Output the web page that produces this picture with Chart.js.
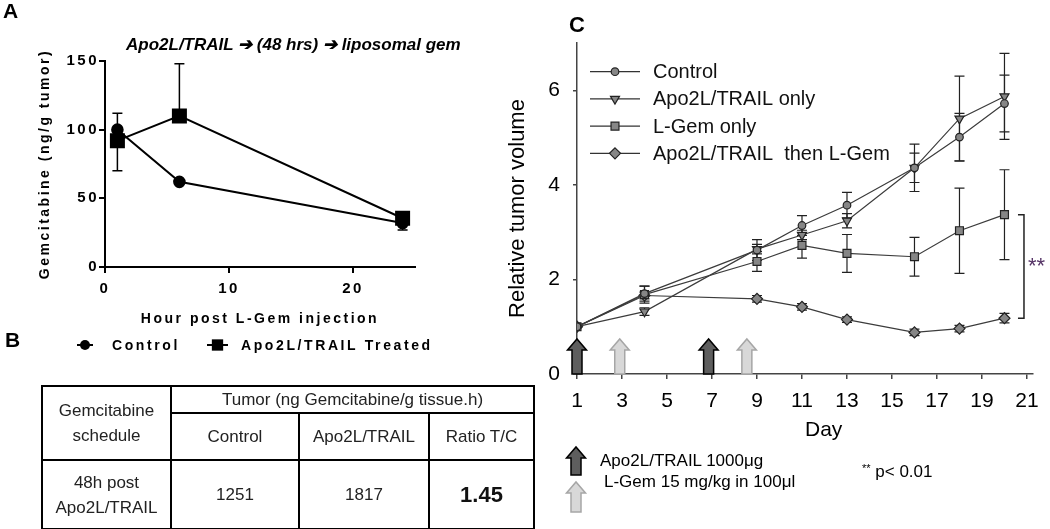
<!DOCTYPE html>
<html>
<head>
<meta charset="utf-8">
<script src="https://cdn.jsdelivr.net/npm/chart.js@4.4.1/dist/chart.umd.min.js"></script>
<style>
  body { margin:0; width:1050px; height:529px; background:#fff; position:relative; overflow:hidden;
         font-family:"Liberation Sans", Arial, sans-serif; color:#000; }
  .abs { position:absolute; line-height:1; white-space:nowrap; }
  .panel { font-weight:bold; font-size:21px; }
  #canvasA { position:absolute; left:0; top:0; }
  #canvasC { position:absolute; left:480px; top:0; }
  #tableB { position:absolute; left:41px; top:385px; border-collapse:collapse; table-layout:fixed;
            color:#222; font-size:17px; }
  #tableB td { border:2px solid #000; text-align:center; padding:0; line-height:25px; }
  #tableB td.big { font-weight:bold; font-size:22px; color:#111; }
</style>
</head>
<body>
<canvas id="canvasA" width="470" height="360"></canvas>
<canvas id="canvasC" width="570" height="529"></canvas>

<div class="abs panel" style="left:3px; top:0px;">A</div>
<div class="abs panel" style="left:5px; top:329px;">B</div>
<div class="abs panel" style="left:569px; top:14px; font-size:22px;">C</div>

<div class="abs" style="left:126px; top:36px; font-size:17px; font-weight:bold; font-style:italic;">Apo2L/TRAIL ➔ (48 hrs) ➔ liposomal gem</div>

<table id="tableB"></table>

<div class="abs" style="left:805px; top:418px; font-size:21px;">Day</div>
<div class="abs" style="left:600px; top:452px; font-size:17px;">Apo2L/TRAIL 1000μg</div>
<div class="abs" style="left:604px; top:473px; font-size:17px;">L-Gem 15 mg/kg in 100μl</div>
<div class="abs" style="left:862px; top:463px; font-size:17px;"><span style="font-size:11px; vertical-align:top;">**</span> p&lt; 0.01</div>

<script>
// ---------- Panel A : gemcitabine in tumour ----------
const aHours = [1, 6, 24];
const aControl = [100, 62, 32];
const aControlErrUp = [12, 0, 0];
const aControlErrDown = [0, 0, 5];
const aTreated = [92, 110, 35.5];
const aTreatedErrUp = [0, 38, 0];
const aTreatedErrDown = [22, 0, 0];
const aSeriesNames = ['Control', 'Apo2L/TRAIL Treated'];

// ---------- Panel B : table ----------
const bHeadTop = 'Tumor (ng Gemcitabine/g tissue.h)';
const bRowHead = ['Gemcitabine', 'schedule'];
const bColumns = ['Control', 'Apo2L/TRAIL', 'Ratio T/C'];
const bSchedule = ['48h post', 'Apo2L/TRAIL'];
const bValues = ['1251', '1817', '1.45'];

// ---------- Panel C : relative tumour volume ----------
const cDays = [1, 4, 9, 11, 13, 16, 18, 20];
const cControl    = [1.0, 1.70, 2.62, 3.14, 3.57, 4.36, 5.01, 5.72];
const cControlErr = [0, 0.16, 0.22, 0.21, 0.27, 0.31, 0.50, 0.60];
const cTrail      = [1.0, 1.32, 2.64, 2.94, 3.24, 4.36, 5.40, 5.87];
const cTrailErr   = [0, 0.08, 0.10, 0.10, 0.15, 0.50, 0.90, 0.91];
const cLGem       = [1.0, 1.68, 2.38, 2.72, 2.55, 2.48, 3.03, 3.37];
const cLGemErr    = [0, 0.18, 0.21, 0.27, 0.40, 0.41, 0.90, 0.95];
const cCombo      = [1.0, 1.66, 1.59, 1.42, 1.15, 0.88, 0.96, 1.18];
const cComboErr   = [0, 0.07, 0.07, 0.07, 0.06, 0.07, 0.07, 0.10];
const cSeriesNames = ['Control', 'Apo2L/TRAIL only', 'L-Gem only', 'Apo2L/TRAIL  then L-Gem'];
const cDayTicks = [1, 3, 5, 7, 9, 11, 13, 15, 17, 19, 21];
const cTrailDoseDays = [1, 6.85];
const cGemDoseDays = [2.9, 8.55];
const cArrowTop = 0.74;

Chart.defaults.font.family = '"Liberation Sans", Arial, sans-serif';
Chart.defaults.color = '#000';

// --- build table B ---
(function () {
  const t = document.getElementById('tableB');
  const widths = [129, 128, 130, 105];
  let html = '<colgroup>' + widths.map(w => `<col style="width:${w}px">`).join('') + '</colgroup>';
  html += `<tr style="height:26px"><td rowspan="2">${bRowHead.join('<br>')}</td><td colspan="3">${bHeadTop}</td></tr>`;
  html += '<tr style="height:47px">' + bColumns.map(c => `<td>${c}</td>`).join('') + '</tr>';
  html += `<tr style="height:69px"><td>${bSchedule.join('<br>')}</td>` +
          bValues.map((v, i) => `<td${i === bValues.length - 1 ? ' class="big"' : ''}>${v}</td>`).join('') + '</tr>';
  t.innerHTML = html;
})();

// --- helpers ---
function drawMarker(ctx, style, x, y, r, fill, stroke, lw) {
  ctx.save();
  ctx.beginPath();
  if (style === 'circle') {
    ctx.arc(x, y, r, 0, Math.PI * 2);
  } else if (style === 'rect') {
    const s = r * Math.SQRT1_2;
    ctx.rect(x - s, y - s, 2 * s, 2 * s);
  } else if (style === 'triangleDown') {
    for (let k = 0; k < 3; k++) {
      const a = Math.PI + k * 2 * Math.PI / 3;
      const px = x + Math.sin(a) * r, py = y - Math.cos(a) * r;
      k ? ctx.lineTo(px, py) : ctx.moveTo(px, py);
    }
    ctx.closePath();
  } else if (style === 'diamond') {
    ctx.moveTo(x, y - r); ctx.lineTo(x + r, y); ctx.lineTo(x, y + r); ctx.lineTo(x - r, y);
    ctx.closePath();
  }
  ctx.fillStyle = fill; ctx.fill();
  if (lw) { ctx.strokeStyle = stroke; ctx.lineWidth = lw; ctx.stroke(); }
  ctx.restore();
}

function blockArrow(ctx, cx, yBase, yTip, fill, stroke) {
  const headH = 11, headW = 9.5, shaftW = 5;
  ctx.save();
  ctx.beginPath();
  ctx.moveTo(cx - shaftW, yBase);
  ctx.lineTo(cx - shaftW, yTip + headH);
  ctx.lineTo(cx - headW, yTip + headH);
  ctx.lineTo(cx, yTip);
  ctx.lineTo(cx + headW, yTip + headH);
  ctx.lineTo(cx + shaftW, yTip + headH);
  ctx.lineTo(cx + shaftW, yBase);
  ctx.closePath();
  ctx.fillStyle = fill; ctx.fill();
  ctx.strokeStyle = stroke; ctx.lineWidth = 1.5; ctx.stroke();
  ctx.restore();
}

// error bars from errUp / errDown arrays on each dataset
const errorBars = {
  id: 'errorBars',
  beforeDatasetsDraw(chart, args, opts) {
    const ctx = chart.ctx, ys = chart.scales.y;
    ctx.save();
    ctx.strokeStyle = opts.color;
    ctx.lineWidth = opts.width;
    chart.data.datasets.forEach((ds, i) => {
      const meta = chart.getDatasetMeta(i);
      meta.data.forEach((pt, j) => {
        const v = ds.data[j].y;
        const up = ds.errUp ? ds.errUp[j] : 0;
        const dn = ds.errDown ? ds.errDown[j] : 0;
        if (!up && !dn) return;
        const yTop = ys.getPixelForValue(v + up), yBot = ys.getPixelForValue(v - dn);
        ctx.beginPath();
        ctx.moveTo(pt.x, yTop); ctx.lineTo(pt.x, yBot);
        if (up) { ctx.moveTo(pt.x - opts.cap, yTop); ctx.lineTo(pt.x + opts.cap, yTop); }
        if (dn) { ctx.moveTo(pt.x - opts.cap, yBot); ctx.lineTo(pt.x + opts.cap, yBot); }
        ctx.stroke();
      });
    });
    ctx.restore();
  }
};

// ================= Chart A =================
const spacedText = {
  id: 'spacedText',
  beforeDraw(chart, args, opts) { chart.ctx.letterSpacing = opts.spacing; }
};

const legendA = {
  id: 'legendA',
  afterDraw(chart, args, opts) {
    const ctx = chart.ctx;
    ctx.save();
    ctx.letterSpacing = opts.spacing;
    ctx.font = 'bold 14px "Liberation Sans", Arial, sans-serif';
    ctx.fillStyle = '#000';
    ctx.textBaseline = 'middle';
    chart.data.datasets.forEach((ds, i) => {
      const item = opts.items[i];
      ctx.strokeStyle = '#000'; ctx.lineWidth = 2;
      ctx.beginPath(); ctx.moveTo(item.x0, opts.y); ctx.lineTo(item.x1, opts.y); ctx.stroke();
      drawMarker(ctx, ds.markerShape, (item.x0 + item.x1) / 2, opts.y, ds.legendRadius, '#000', '#000', 0);
      ctx.fillText(ds.label, item.tx, opts.y + 1);
    });
    ctx.restore();
  }
};

new Chart(document.getElementById('canvasA'), {
  type: 'line',
  data: {
    datasets: [
      {
        label: aSeriesNames[0],
        data: aHours.map((h, i) => ({ x: h, y: aControl[i] })),
        errUp: aControlErrUp, errDown: aControlErrDown,
        borderColor: '#000', borderWidth: 2,
        pointStyle: 'circle', pointRadius: 5.3,
        pointBackgroundColor: '#000', pointBorderColor: '#000',
        markerShape: 'circle', legendRadius: 5
      },
      {
        label: aSeriesNames[1],
        data: aHours.map((h, i) => ({ x: h, y: aTreated[i] })),
        errUp: aTreatedErrUp, errDown: aTreatedErrDown,
        borderColor: '#000', borderWidth: 2,
        pointStyle: 'rect', pointRadius: 9.2,
        pointBackgroundColor: '#000', pointBorderColor: '#000',
        markerShape: 'rect', legendRadius: 8
      }
    ]
  },
  options: {
    responsive: false,
    animation: false,
    layout: { padding: { top: 61, left: 0, right: 55, bottom: 25 } },
    plugins: {
      legend: { display: false },
      tooltip: { enabled: false },
      spacedText: { spacing: '2.5px' },
      errorBars: { color: '#000', width: 1.5, cap: 5 },
      legendA: {
        y: 345, spacing: '2.6px',
        items: [ { x0: 77, x1: 93, tx: 112 }, { x0: 207, x1: 228, tx: 241 } ]
      }
    },
    scales: {
      x: {
        type: 'linear', min: 0, max: 25,
        afterFit(s) { s.height = 68; },
        ticks: { stepSize: 10, includeBounds: false, padding: 7, font: { size: 15, weight: 'bold' }, color: '#000' },
        grid: { drawOnChartArea: false, drawTicks: true, tickLength: 6, color: '#000', lineWidth: 2 },
        border: { color: '#000', width: 2 },
        title: { display: true, text: 'Hour post L-Gem injection', font: { size: 14, weight: 'bold' },
                 color: '#000', padding: { top: 0, bottom: 7.6 } }
      },
      y: {
        min: 0, max: 150,
        afterFit(s) { s.width = 105; },
        ticks: { stepSize: 50, padding: 0, font: { size: 15, weight: 'bold' }, color: '#000' },
        grid: { drawOnChartArea: false, drawTicks: true, tickLength: 6, color: '#000', lineWidth: 2 },
        border: { color: '#000', width: 2 },
        title: { display: true, text: 'Gemcitabine (ng/g tumor)', font: { size: 14, weight: 'bold' },
                 color: '#000', padding: { top: 36.6, bottom: 0 } }
      }
    }
  },
  plugins: [spacedText, errorBars, legendA]
});

// ================= Chart C =================
const doseArrows = {
  id: 'doseArrows',
  beforeDatasetsDraw(chart, args, opts) {
    const ctx = chart.ctx, xs = chart.scales.x, ys = chart.scales.y;
    const base = ys.getPixelForValue(0), tip = ys.getPixelForValue(cArrowTop);
    cTrailDoseDays.forEach(d => blockArrow(ctx, xs.getPixelForValue(d), base, tip, opts.darkFill, opts.darkStroke));
    cGemDoseDays.forEach(d => blockArrow(ctx, xs.getPixelForValue(d), base, tip, opts.lightFill, opts.lightStroke));
    // key arrows under the axis
    blockArrow(ctx, opts.keyX, opts.keyDark[1], opts.keyDark[0], opts.darkFill, opts.darkStroke);
    blockArrow(ctx, opts.keyX, opts.keyLight[1], opts.keyLight[0], opts.lightFill, opts.lightStroke);
  }
};

const bracket = {
  id: 'bracket',
  afterDatasetsDraw(chart, args, opts) {
    const ctx = chart.ctx, xs = chart.scales.x, ys = chart.scales.y;
    const last = cDays.length - 1;
    const x = xs.getPixelForValue(cDays[last]) + opts.gap;
    const y1 = ys.getPixelForValue(cLGem[last]), y2 = ys.getPixelForValue(cCombo[last]);
    ctx.save();
    ctx.strokeStyle = '#222'; ctx.lineWidth = 1.5;
    ctx.beginPath();
    ctx.moveTo(x - 6, y1); ctx.lineTo(x, y1); ctx.lineTo(x, y2); ctx.lineTo(x - 6, y2);
    ctx.stroke();
    ctx.font = '22px "Liberation Sans", Arial, sans-serif';
    ctx.fillStyle = opts.starColor;
    ctx.textBaseline = 'alphabetic';
    ctx.fillText('**', x + 4, (y1 + y2) / 2 + 7);
    ctx.restore();
  }
};

const legendC = {
  id: 'legendC',
  afterDraw(chart, args, opts) {
    const ctx = chart.ctx;
    ctx.save();
    ctx.font = '20px "Liberation Sans", Arial, sans-serif';
    ctx.fillStyle = '#111';
    ctx.textBaseline = 'middle';
    chart.data.datasets.forEach((ds, i) => {
      const y = opts.y + i * opts.dy;
      ctx.strokeStyle = '#333'; ctx.lineWidth = 1.2;
      ctx.beginPath(); ctx.moveTo(opts.x0, y); ctx.lineTo(opts.x1, y); ctx.stroke();
      drawMarker(ctx, ds.markerShape, (opts.x0 + opts.x1) / 2, y, ds.pointRadius, ds.pointBackgroundColor, '#222', 1.2);
      ctx.fillText(ds.label, opts.tx, y + 1);
    });
    ctx.restore();
  }
};

const cStyle = (label, values, errs, shape, style, radius, rot) => ({
  label: label,
  data: cDays.map((d, i) => ({ x: d, y: values[i] })),
  errUp: errs, errDown: errs,
  borderColor: '#3c3c3c', borderWidth: 1.2,
  pointStyle: style, pointRotation: rot, pointRadius: radius,
  pointBackgroundColor: '#868686', pointBorderColor: '#222', pointBorderWidth: 1.2,
  markerShape: shape
});

new Chart(document.getElementById('canvasC'), {
  type: 'line',
  data: {
    datasets: [
      cStyle(cSeriesNames[0], cControl, cControlErr, 'circle', 'circle', 3.8, 0),
      cStyle(cSeriesNames[1], cTrail, cTrailErr, 'triangleDown', 'triangle', 5.2, 180),
      cStyle(cSeriesNames[2], cLGem, cLGemErr, 'rect', 'rect', 5.6, 0),
      cStyle(cSeriesNames[3], cCombo, cComboErr, 'diamond', 'rectRot', 5.5, 0)
    ]
  },
  options: {
    responsive: false,
    animation: false,
    layout: { padding: { top: 43, left: 0, right: 17.4, bottom: 109 } },
    plugins: {
      legend: { display: false },
      tooltip: { enabled: false },
      errorBars: { color: '#222', width: 1.2, cap: 5 },
      doseArrows: {
        darkFill: '#5e5e5e', darkStroke: '#000', lightFill: '#d8d8d8', lightStroke: '#a6a6a6',
        keyX: 96, keyDark: [447, 475], keyLight: [482, 512]
      },
      bracket: { gap: 19.5, starColor: '#553366' },
      legendC: { x0: 110, x1: 160, tx: 173, y: 71.7, dy: 27.2 }
    },
    scales: {
      x: {
        type: 'linear', min: 1, max: 21.25,
        afterFit(s) { s.height = 46; },
        afterBuildTicks(s) { s.ticks = cDayTicks.map(v => ({ value: v })); },
        ticks: { padding: 10, font: { size: 21 }, color: '#000', autoSkip: false, maxRotation: 0 },
        grid: { drawOnChartArea: false, drawTicks: true, tickLength: 5, color: '#444', lineWidth: 1.5 },
        border: { color: '#444', width: 1.5 }
      },
      y: {
        min: 0, max: 7,
        afterFit(s) { s.width = 97; },
        ticks: { stepSize: 2, includeBounds: false, padding: 13, font: { size: 21 }, color: '#000' },
        grid: { drawOnChartArea: false, drawTicks: true, tickLength: 4, color: '#444', lineWidth: 1.5 },
        border: { color: '#444', width: 1.5 },
        title: { display: true, text: 'Relative tumor volume', font: { size: 22 }, color: '#000',
                 padding: { top: 24.8, bottom: 0 } }
      }
    }
  },
  plugins: [doseArrows, errorBars, bracket, legendC]
});
</script>
</body>
</html>
